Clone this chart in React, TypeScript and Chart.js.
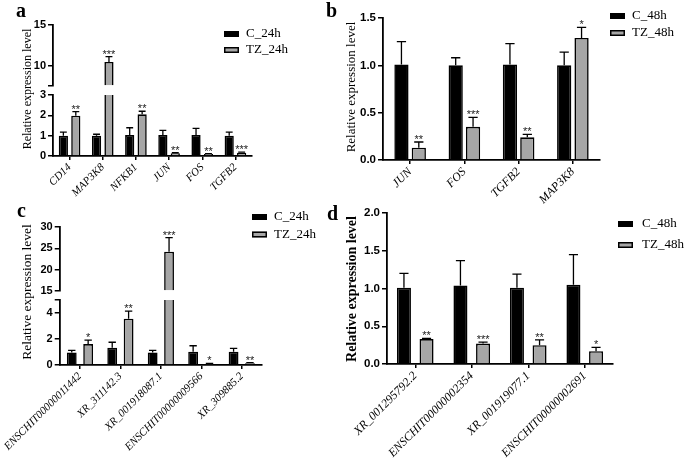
import React, { useEffect, useRef } from 'react';
import { Chart, registerables } from 'chart.js';

Chart.register(...registerables);

const W = 685;
const H = 458;
const SERIF = '"Liberation Serif", "Times New Roman", serif';
const SANS = '"Liberation Sans", Arial, sans-serif';
const BLACK = '#000000';
const GREY = '#a6a6a6';

// ---------- Panel a ----------
const catsA = ['CD14', 'MAP3K8', 'NFKB1', 'JUN', 'FOS', 'TGFB2'];
const c24A = [1.0, 1.0, 1.03, 1.03, 1.03, 1.0];
const c24ErrTopA = [1.17, 1.07, 1.39, 1.26, 1.36, 1.17];
const tz24A = [1.98, 10.46, 2.05, 0.13, 0.1, 0.16];
const tz24ErrTopA = [2.18, 11.1, 2.2, 0.16, 0.12, 0.19];
const starsA = ['**', '***', '**', '**', '**', '***'];
const lowTicksA = [0, 1, 2, 3];
const lowLabelsA = ['0', '1', '2', '3'];
const upTicksA = [7.5, 10, 15];
const upLabelsA = ['', '10', '15'];

// ---------- Panel b ----------
const catsB = ['JUN', 'FOS', 'TGFB2', 'MAP3K8'];
const c48B = [1.01, 1.0, 1.01, 1.0];
const c48ErrTopB = [1.25, 1.08, 1.23, 1.14];
const tz48B = [0.13, 0.35, 0.24, 1.29];
const tz48ErrTopB = [0.19, 0.45, 0.27, 1.4];
const starsB = ['**', '***', '**', '*'];
const ticksB = [0, 0.5, 1.0, 1.5];
const labelsB = ['0.0', '0.5', '1.0', '1.5'];

// ---------- Panel c ----------
const catsC = ['ENSCHIT00000011442', 'XR_311142.3', 'XR_001918087.1', 'ENSCHIT00000009566', 'XR_309885.2'];
const c24C = [0.97, 1.33, 0.97, 1.02, 1.02];
const c24ErrTopC = [1.13, 1.75, 1.13, 1.48, 1.28];
const tz24C = [1.61, 3.56, 24.2, 0.08, 0.13];
const tz24ErrTopC = [1.92, 4.15, 27.5, 0.12, 0.19];
const starsC = ['*', '**', '***', '*', '**'];
const lowTicksC = [0, 2, 4, 5];
const lowLabelsC = ['0', '2', '4', ''];
const upTicksC = [15, 20, 25, 30];
const upLabelsC = ['15', '20', '25', '30'];

// ---------- Panel d ----------
const catsD = ['XR_001295792.2', 'ENSCHIT00000002354', 'XR_001919077.1', 'ENSCHIT00000002691'];
const c48D = [1.01, 1.04, 1.01, 1.05];
const c48ErrTopD = [1.2, 1.37, 1.19, 1.45];
const tz48D = [0.33, 0.27, 0.25, 0.17];
const tz48ErrTopD = [0.34, 0.29, 0.32, 0.22];
const starsD = ['**', '***', '**', '*'];
const ticksD = [0, 0.5, 1.0, 1.5, 2.0];
const labelsD = ['0.0', '0.5', '1.0', '1.5', '2.0'];

type Seg = { min: number; max: number; ticks: number[]; labels: string[] };
type Series = { label: string; color: string; values: number[]; errTop: number[] };
type PanelCfg = {
  id: string;
  letter: { text: string; x: number; y: number };
  cats: string[];
  series: Series[];
  stars: string[];
  area: { left: number; right: number; top: number; bottom: number };
  lower: Seg;
  upper?: Seg;
  weights?: [number, number, number];
  catPct: number;
  barPct: number;
  capRatio: number;
  yFont: number;
  xFont: number;
  title: { x: number; y: number; font: string };
  legend: { x: number; y: number; dy: number; tx: number; font: string };
};

const AXW = 30;

const panels: PanelCfg[] = [
  {
    id: 'a',
    letter: { text: 'a', x: 16, y: 17 },
    cats: catsA,
    series: [
      { label: 'C_24h', color: BLACK, values: c24A, errTop: c24ErrTopA },
      { label: 'TZ_24h', color: GREY, values: tz24A, errTop: tz24ErrTopA },
    ],
    stars: starsA,
    area: { left: 53, right: 252, top: 25, bottom: 156 },
    lower: { min: 0, max: 3, ticks: lowTicksA, labels: lowLabelsA },
    upper: { min: 7.5, max: 15, ticks: upTicksA, labels: upLabelsA },
    weights: [61, 9, 61],
    catPct: 0.75,
    barPct: 0.74,
    capRatio: 0.75,
    yFont: 11,
    xFont: 11,
    title: { x: 28, y: 89, font: `12px ${SERIF}` },
    legend: { x: 224, y: 34, dy: 16, tx: 246, font: `13px ${SERIF}` },
  },
  {
    id: 'b',
    letter: { text: 'b', x: 326, y: 17 },
    cats: catsB,
    series: [
      { label: 'C_48h', color: BLACK, values: c48B, errTop: c48ErrTopB },
      { label: 'TZ_48h', color: GREY, values: tz48B, errTop: tz48ErrTopB },
    ],
    stars: starsB,
    area: { left: 383, right: 600, top: 18, bottom: 160 },
    lower: { min: 0, max: 1.5, ticks: ticksB, labels: labelsB },
    catPct: 0.64,
    barPct: 0.82,
    capRatio: 0.65,
    yFont: 11.5,
    xFont: 12,
    title: { x: 352, y: 87, font: `13px ${SERIF}` },
    legend: { x: 610, y: 16, dy: 17, tx: 632, font: `13px ${SERIF}` },
  },
  {
    id: 'c',
    letter: { text: 'c', x: 17, y: 217 },
    cats: catsC,
    series: [
      { label: 'C_24h', color: BLACK, values: c24C, errTop: c24ErrTopC },
      { label: 'TZ_24h', color: GREY, values: tz24C, errTop: tz24ErrTopC },
    ],
    stars: starsC,
    area: { left: 52, right: 262, top: 227, bottom: 365 },
    lower: { min: 0, max: 5, ticks: lowTicksC, labels: lowLabelsC },
    upper: { min: 15, max: 30, ticks: upTicksC, labels: upLabelsC },
    weights: [64, 9, 65],
    catPct: 0.81,
    barPct: 0.6,
    capRatio: 0.75,
    yFont: 11,
    xFont: 11,
    title: { x: 27, y: 292, font: `13.5px ${SERIF}` },
    legend: { x: 252, y: 217, dy: 17.5, tx: 274, font: `13px ${SERIF}` },
  },
  {
    id: 'd',
    letter: { text: 'd', x: 327, y: 220 },
    cats: catsD,
    series: [
      { label: 'C_48h', color: BLACK, values: c48D, errTop: c48ErrTopD },
      { label: 'TZ_48h', color: GREY, values: tz48D, errTop: tz48ErrTopD },
    ],
    stars: starsD,
    area: { left: 387, right: 613, top: 213, bottom: 364 },
    lower: { min: 0, max: 2, ticks: ticksD, labels: labelsD },
    catPct: 0.8,
    barPct: 0.62,
    capRatio: 0.65,
    yFont: 11.5,
    xFont: 12,
    title: { x: 352, y: 289, font: `bold 14px ${SERIF}` },
    legend: { x: 618, y: 224, dy: 21, tx: 642, font: `13px ${SERIF}` },
  },
];

function yScale(p: PanelCfg, seg: Seg, extra: any) {
  return {
    type: 'linear',
    position: 'left',
    min: seg.min,
    max: seg.max,
    stacked: false,
    grid: { display: true, drawOnChartArea: false, drawTicks: true, tickLength: 5, color: '#000', lineWidth: 1.5 },
    border: { display: true, color: '#000', width: 1.8 },
    ticks: {
      color: '#000',
      padding: 2,
      font: { family: SANS, weight: 'bold', size: p.yFont },
      callback: (_v: any, i: number) => seg.labels[i],
    },
    afterBuildTicks: (s: any) => {
      s.ticks = seg.ticks.map((v) => ({ value: v }));
    },
    afterFit: (s: any) => {
      s.width = AXW;
    },
    ...extra,
  };
}

function makePlugin(p: PanelCfg) {
  return {
    id: 'deco_' + p.id,
    afterDatasetsDraw(chart: any) {
      const ctx = chart.ctx;
      const yLow = chart.scales.y;
      const yUp = chart.scales.yUp;
      const inUp = (v: number) => !!p.upper && v > p.upper.min;
      const pix = (v: number) => (inUp(v) ? yUp : yLow).getPixelForValue(v);
      p.series.forEach((s, k) => {
        s.values.forEach((v, i) => {
          const dsIndex = inUp(v) ? p.series.length + k : k;
          const el = chart.getDatasetMeta(dsIndex).data[i];
          if (!el) return;
          const x = el.x;
          const bw = el.width;
          const y0 = pix(v);
          const y1 = pix(s.errTop[i]);
          const cw = bw * p.capRatio;
          ctx.save();
          ctx.strokeStyle = '#000';
          ctx.lineWidth = 1.3;
          ctx.beginPath();
          ctx.moveTo(x, y0);
          ctx.lineTo(x, y1);
          ctx.moveTo(x - cw / 2, y1);
          ctx.lineTo(x + cw / 2, y1);
          ctx.stroke();
          if (k === 1) {
            ctx.fillStyle = '#222';
            ctx.font = `11px ${SANS}`;
            ctx.textAlign = 'center';
            ctx.textBaseline = 'alphabetic';
            ctx.fillText(p.stars[i], x, y1 + 1);
          }
          ctx.restore();
        });
      });
    },
    afterDraw(chart: any) {
      const ctx = chart.ctx;
      ctx.save();
      // panel letter
      ctx.fillStyle = '#000';
      ctx.font = `bold 20px ${SERIF}`;
      ctx.textAlign = 'left';
      ctx.textBaseline = 'alphabetic';
      ctx.fillText(p.letter.text, p.letter.x, p.letter.y);
      // y title
      ctx.save();
      ctx.translate(p.title.x, p.title.y);
      ctx.rotate(-Math.PI / 2);
      ctx.font = p.title.font;
      ctx.textAlign = 'center';
      ctx.textBaseline = 'middle';
      ctx.fillText('Relative expression level', 0, 0);
      ctx.restore();
      // legend
      p.series.forEach((s, k) => {
        const cy = p.legend.y + k * p.legend.dy;
        ctx.fillStyle = s.color;
        ctx.fillRect(p.legend.x, cy - 3, 15, 6);
        ctx.strokeStyle = '#000';
        ctx.lineWidth = 1.5;
        ctx.strokeRect(p.legend.x + 0.75, cy - 3 + 0.75, 13.5, 4.5);
        ctx.fillStyle = '#000';
        ctx.font = p.legend.font;
        ctx.textAlign = 'left';
        ctx.textBaseline = 'middle';
        ctx.fillText(s.label, p.legend.tx, cy);
      });
      ctx.restore();
    },
  };
}

function buildConfig(p: PanelCfg): any {
  const datasets: any[] = [];
  const lowMax = p.lower.max;
  p.series.forEach((s, k) => {
    datasets.push({
      label: s.label,
      data: s.values.map((v) => Math.min(v, lowMax)),
      yAxisID: 'y',
      stack: 'g' + k,
      backgroundColor: s.color,
      borderColor: '#000',
      borderWidth: (c: any) =>
        s.values[c.dataIndex] > lowMax ? { left: 1.6, right: 1.6, top: 0, bottom: 0 } : 1.6,
      borderSkipped: 'start',
      categoryPercentage: p.catPct,
      barPercentage: p.barPct,
    });
  });
  if (p.upper) {
    const up = p.upper;
    p.series.forEach((s, k) => {
      datasets.push({
        label: s.label + ' (upper)',
        data: s.values.map((v) => (v > up.min ? v : null)),
        yAxisID: 'yUp',
        stack: 'g' + k,
        base: up.min,
        backgroundColor: s.color,
        borderColor: '#000',
        borderWidth: 1.6,
        borderSkipped: 'start',
        categoryPercentage: p.catPct,
        barPercentage: p.barPct,
      });
    });
  }

  const scales: any = {
    x: {
      type: 'category',
      offset: true,
      grid: {
        display: true,
        drawOnChartArea: false,
        drawTicks: true,
        tickLength: 4,
        offset: false,
        color: '#000',
        lineWidth: 1.5,
      },
      border: { display: true, color: '#000', width: 1.8 },
      ticks: {
        autoSkip: false,
        minRotation: 45,
        maxRotation: 45,
        padding: 1,
        color: '#000',
        font: { family: SERIF, style: 'italic', size: p.xFont },
      },
      afterFit: (s: any) => {
        s.height = H - p.area.bottom;
      },
    },
  };

  if (p.upper && p.weights) {
    const [wu, wg, wl] = p.weights;
    scales.y = yScale(p, p.lower, { stack: 'brk', stackWeight: wl, weight: 1 });
    scales.yGap = {
      type: 'linear',
      position: 'left',
      stack: 'brk',
      stackWeight: wg,
      weight: 2,
      display: true,
      min: 0,
      max: 1,
      grid: { display: false },
      ticks: { display: false },
      border: { display: false },
      afterFit: (s: any) => {
        s.width = AXW;
      },
    };
    scales.yUp = yScale(p, p.upper, { stack: 'brk', stackWeight: wu, weight: 3 });
  } else {
    scales.y = yScale(p, p.lower, {});
  }

  return {
    type: 'bar',
    data: { labels: p.cats, datasets },
    options: {
      responsive: false,
      maintainAspectRatio: false,
      animation: false,
      devicePixelRatio: 1,
      events: [],
      layout: {
        padding: {
          left: p.area.left - AXW,
          right: W - p.area.right,
          top: p.area.top,
          bottom: 0,
        },
      },
      plugins: {
        legend: { display: false },
        tooltip: { enabled: false },
        title: { display: false },
      },
      scales,
    },
    plugins: [makePlugin(p)],
  };
}

function Panel({ cfg }: { cfg: PanelCfg }) {
  const ref = useRef<HTMLCanvasElement | null>(null);
  useEffect(() => {
    if (!ref.current) return;
    const chart = new Chart(ref.current, buildConfig(cfg));
    return () => chart.destroy();
  }, [cfg]);
  return (
    <canvas
      ref={ref}
      width={W}
      height={H}
      style={{ position: 'absolute', left: 0, top: 0, width: W, height: H }}
    />
  );
}

export default function App() {
  return (
    <div
      style={{
        position: 'fixed',
        left: 0,
        top: 0,
        width: W,
        height: H,
        background: '#ffffff',
        overflow: 'hidden',
      }}
    >
      {panels.map((p) => (
        <Panel key={p.id} cfg={p} />
      ))}
    </div>
  );
}
